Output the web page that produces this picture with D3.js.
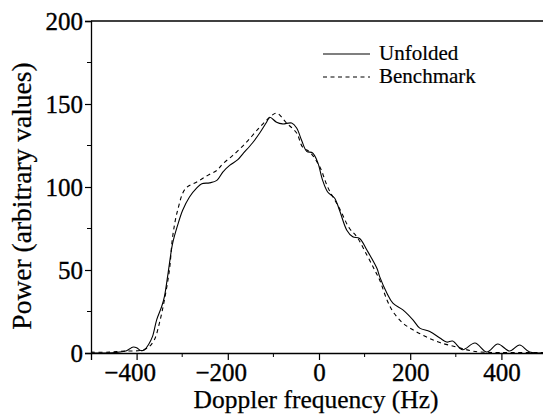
<!DOCTYPE html>
<html>
<head>
<meta charset="utf-8">
<script src="https://cdn.jsdelivr.net/npm/d3@7"></script>
<style>
  body { margin: 0; background: #fff; }
  svg { display: block; }
</style>
</head>
<body>
<script>
// Unfolded spectrum (solid line)
const unfoldedFreq = [-500, -481, -448, -426, -415, -409, -400, -391, -383, -374, -365, -356, -345, -339, -331, -321, -310, -299, -284, -268, -257, -240, -224, -211, -196, -178, -167, -146, -130, -115, -108, -93, -80, -60, -49, -38, -27, -14, -3, 8, 19, 34, 45, 61, 74, 89, 105, 127, 133, 149, 162, 184, 206, 221, 243, 265, 280, 293, 315, 342, 368, 392, 418, 440, 462, 500];
const unfoldedPower = [0, 0, 0.3, 1.0, 2.5, 3.5, 3.2, 1.5, 1.8, 5, 10, 20, 28, 34, 48, 66, 77, 86, 94, 99.5, 102, 102.5, 104, 109, 113, 116.5, 120, 126.5, 132.5, 139, 142, 139, 138, 138.5, 135.5, 128, 121.5, 120.5, 115, 104, 97, 93.4, 86, 74, 70, 69, 62, 51, 46, 36, 30, 26, 20, 15, 13, 9, 6.6, 7.2, 2, 6, 0.6, 5.4, 1.2, 4.8, 0.6, 0.2];

// Benchmark spectrum (dashed line)
const benchFreq = [-500, -459, -437, -415, -393, -376, -361, -350, -339, -328, -321, -310, -293, -268, -244, -224, -211, -189, -159, -130, -108, -93, -71, -49, -36, -20, 2, 19, 45, 67, 83, 105, 122, 133, 149, 162, 184, 206, 236, 265, 302, 331, 353, 396, 500];
const benchPower = [0.5, 0.5, 1, 1.2, 1.5, 3, 8, 18, 32, 50, 70, 86, 99, 103, 107, 110, 114, 119, 127, 136, 142, 144.5, 138.5, 132.5, 124, 121, 112, 100, 87, 75, 70, 59, 50, 44, 32, 25, 18, 14, 9.6, 6.3, 3.6, 1.5, 0.6, 0.3, 0.3];

const xTicks = [-400, -200, 0, 200, 400];
const xMinorTicks = [-300, -100, 100, 300];
const yTicks = [0, 50, 100, 150, 200];
const yMinorTicks = [25, 75, 125, 175];
const seriesNames = ["Unfolded", "Benchmark"];

const w = 543, h = 414;
const mLeft = 91, mRight = 547, mTop = 21, mBottom = 353;
const serif = "'Liberation Serif', 'Times New Roman', serif";

const svg = d3.select('body').append('svg')
  .attr('width', w)
  .attr('height', h);

const xScale = d3.scaleLinear().domain([-500, 500]).range([mLeft, mRight]);
const yScale = d3.scaleLinear().domain([0, 200]).range([mBottom, mTop]);

svg.append('clipPath').attr('id', 'plot-clip')
  .append('rect')
  .attr('x', mLeft).attr('y', mTop - 2)
  .attr('width', mRight - mLeft).attr('height', mBottom - mTop + 2);

const line = d3.line()
  .x(d => xScale(d[0]))
  .y(d => yScale(d[1]))
  .curve(d3.curveCatmullRom.alpha(0.5));

const unfolded = unfoldedFreq.map((f, i) => [f, unfoldedPower[i]]);
const bench = benchFreq.map((f, i) => [f, benchPower[i]]);

const plot = svg.append('g').attr('clip-path', 'url(#plot-clip)');
plot.append('path')
  .datum(bench)
  .attr('d', line)
  .attr('fill', 'none')
  .attr('stroke', '#000')
  .attr('stroke-width', 1.1)
  .attr('stroke-dasharray', '4,3.5');
plot.append('path')
  .datum(unfolded)
  .attr('d', line)
  .attr('fill', 'none')
  .attr('stroke', '#000')
  .attr('stroke-width', 1.1);

// axes
const xAxis = svg.append('g')
  .attr('transform', `translate(0, ${mBottom})`)
  .call(d3.axisBottom(xScale).tickValues(xTicks).tickSize(7).tickPadding(3)
    .tickFormat(d => d < 0 ? '\u2212' + Math.abs(d) : d));
// digits centred on the tick, minus sign hangs to the left
xAxis.selectAll('.tick text').attr('x', d => d < 0 ? -7 : 0);
xAxis.append('g').selectAll('line')
  .data(xMinorTicks).enter().append('line')
  .attr('x1', d => xScale(d)).attr('x2', d => xScale(d))
  .attr('y1', 0).attr('y2', 4)
  .attr('stroke', '#000');

const yAxis = svg.append('g')
  .attr('transform', `translate(${mLeft}, 0)`)
  .call(d3.axisLeft(yScale).tickValues(yTicks).tickSize(6).tickPadding(2));
yAxis.append('g').selectAll('line')
  .data(yMinorTicks).enter().append('line')
  .attr('y1', d => yScale(d)).attr('y2', d => yScale(d))
  .attr('x1', 0).attr('x2', -4)
  .attr('stroke', '#000');

xAxis.attr('font-family', serif).attr('font-size', 25);
yAxis.attr('font-family', serif).attr('font-size', 25);
svg.selectAll('.domain').attr('stroke', '#000').attr('stroke-width', 1.3);
svg.selectAll('.tick line').attr('stroke', '#000').attr('stroke-width', 1.2);
svg.selectAll('.tick text').attr('fill', '#000')
  .attr('stroke', '#000').attr('stroke-width', 0.35);

// frame top / right
svg.append('line')
  .attr('x1', mLeft).attr('x2', mRight)
  .attr('y1', mTop).attr('y2', mTop)
  .attr('stroke', '#000').attr('stroke-width', 1.3);
svg.append('line')
  .attr('x1', mRight).attr('x2', mRight)
  .attr('y1', mTop).attr('y2', mBottom)
  .attr('stroke', '#000').attr('stroke-width', 1.3);

// axis titles
svg.append('text')
  .attr('x', 316)
  .attr('y', 408)
  .attr('text-anchor', 'middle')
  .attr('font-family', serif)
  .attr('font-size', 25.5)
  .attr('stroke', '#000').attr('stroke-width', 0.25)
  .text('Doppler frequency (Hz)');

svg.append('text')
  .attr('transform', `translate(31, 196) rotate(-90)`)
  .attr('text-anchor', 'middle')
  .attr('font-family', serif)
  .attr('font-size', 27.5)
  .attr('stroke', '#000').attr('stroke-width', 0.25)
  .text('Power (arbitrary values)');

// legend
const legend = svg.append('g');
seriesNames.forEach((name, i) => {
  const y = 54 + i * 23;
  legend.append('line')
    .attr('x1', 323).attr('x2', 370)
    .attr('y1', y).attr('y2', y)
    .attr('stroke', '#000').attr('stroke-width', 1.1)
    .attr('stroke-dasharray', i === 1 ? '4,3.5' : null);
  legend.append('text')
    .attr('x', 379).attr('y', y + 6)
    .attr('font-family', serif)
    .attr('font-size', 21)
    .attr('stroke', '#000').attr('stroke-width', 0.2)
    .text(name);
});
</script>
</body>
</html>
